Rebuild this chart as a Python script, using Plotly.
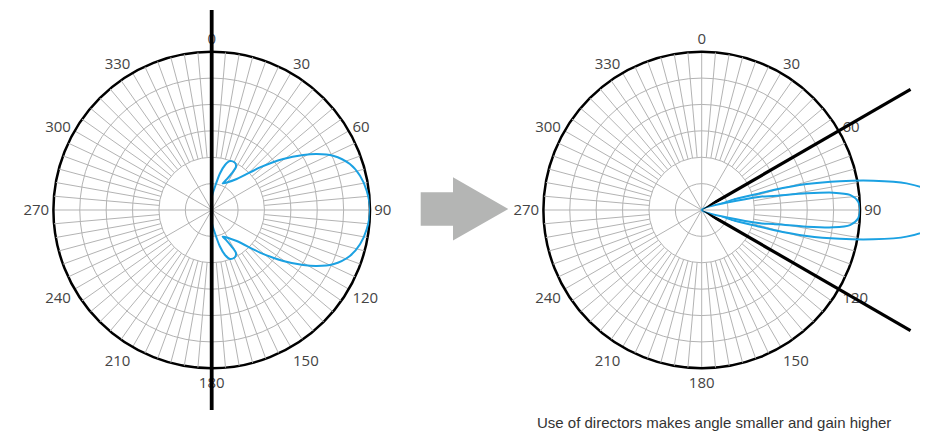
import plotly.graph_objects as go

# ---------------- data ----------------
# radial unit: one grid ring; outer ring = 6
angle_ticks = [0, 30, 60, 90, 120, 150, 180, 210, 240, 270, 300, 330]
angle_labels = ["0", "30", "60", "90", "120", "150", "180", "210", "240", "270", "300", "330"]
ring_values = [1, 2, 3, 4, 5]

# left chart: dipole + reflector pattern (petal side lobes + main lobe to 90)
left_theta = [0, 1, 8, 12.7, 16.5, 20.5, 26, 29.3, 28.6, 26, 22.4,
              38.9, 48.6, 54.5, 59, 61.9, 65.9, 71.6, 77, 82.9, 90,
              97.1, 103, 108.4, 114.1, 118.1, 121, 125.5, 131.4, 141.1,
              157.6, 154, 151.4, 150.7, 154, 159.5, 163.5, 167.3, 172, 179, 180]
left_r = [0, 0.5, 0.89, 1.42, 1.78, 1.98, 2.0, 1.88, 1.58, 1.29, 1.09,
          1.51, 2.44, 3.33, 4.05, 4.51, 5.04, 5.52, 5.77, 5.92, 6.0,
          5.92, 5.77, 5.52, 5.04, 4.51, 4.05, 3.33, 2.44, 1.51,
          1.09, 1.29, 1.58, 1.88, 2.0, 1.98, 1.78, 1.42, 0.89, 0.5, 0]

# left chart: thick vertical line through the centre
left_line_theta = [0, 0, 180]
left_line_r = [7.58, 0, 7.58]

# right chart: narrow lobe (inner) and long lobe (outer)
inner_theta = [77, 77.2, 78.9, 81, 82.5, 84.2, 87, 90, 93, 95.8, 97.5, 99, 101.1, 102.8, 103]
inner_r = [0, 2.27, 2.76, 4.03, 5.03, 5.65, 5.94, 6.0, 5.94, 5.65, 5.03, 4.03, 2.76, 2.27, 0]

outer_theta = [74, 74, 74.4, 76.1, 78.2, 80.3, 82.6, 84.9, 87.5, 90,
               92.5, 95.1, 97.4, 99.7, 101.8, 103.9, 105.6, 106, 106]
outer_r = [0, 2.3, 2.82, 4.1, 5.35, 6.6, 7.83, 8.56, 8.75, 8.85,
           8.75, 8.56, 7.83, 6.6, 5.35, 4.1, 2.82, 2.3, 0]

# right chart: beam-angle lines at 60 and 120
upper_line_theta = [60, 60]
upper_line_r = [0, 9.14]
lower_line_theta = [120, 120]
lower_line_r = [0, 9.14]

caption = "Use of directors makes angle smaller and gain higher"

# ---------------- geometry / styling ----------------
OFF = 8                     # page body margin in the browser
W, H = 928 - OFF, 437 - OFF
GRID = "#b3b3b3"
BLUE = "#1ba1e2"
TXT = "#444444"
R = 158.3                   # outer ring radius in px
PX_PER_UNIT = R / 6
CY = 210 - OFF
CX_LEFT = 211.7 - OFF
CX_RIGHT = 701.7 - OFF


def dom_px(x0, x1, y0, y1):
    """pixel box (from top-left of the figure) -> paper domain"""
    return dict(x=[x0 / W, x1 / W], y=[(H - y1) / H, (H - y0) / H])


fig = go.Figure()


def spokes(sub):
    th, rr = [], []
    for a in range(0, 360, 5):
        if a % 30 == 0:
            continue
        th += [a, a, None]
        rr += [2, 6, None]
    fig.add_trace(go.Scatterpolar(theta=th, r=rr, mode="lines", subplot=sub,
                                  line=dict(color=GRID, width=1), hoverinfo="skip"))


spokes("polar")
spokes("polar2")

line_blue = dict(color=BLUE, width=2, shape="spline", smoothing=0.8)

fig.add_trace(go.Scatterpolar(theta=left_theta, r=left_r, mode="lines", subplot="polar",
                              line=line_blue))
fig.add_trace(go.Scatterpolar(theta=inner_theta, r=inner_r, mode="lines", subplot="polar2",
                              line=line_blue))

# overlay subplots (same centre and scale) that let lines run past the outer ring
fig.add_trace(go.Scatterpolar(theta=left_line_theta, r=left_line_r, mode="lines", subplot="polar3",
                              line=dict(color="black", width=3.8)))
fig.add_trace(go.Scatterpolar(theta=outer_theta, r=outer_r, mode="lines", subplot="polar4",
                              line=line_blue))
fig.add_trace(go.Scatterpolar(theta=upper_line_theta, r=upper_line_r, mode="lines", subplot="polar5",
                              line=dict(color="black", width=3.2)))
fig.add_trace(go.Scatterpolar(theta=lower_line_theta, r=lower_line_r, mode="lines", subplot="polar6",
                              line=dict(color="black", width=3.2)))


def main_polar(cx):
    return dict(
        domain=dom_px(cx - R, cx + R, CY - R, CY + R),
        bgcolor="white",
        angularaxis=dict(rotation=90, direction="clockwise",
                         tickmode="array", tickvals=angle_ticks, ticktext=angle_labels,
                         ticks="", showgrid=True, gridcolor=GRID, gridwidth=1,
                         showline=True, linecolor="black", linewidth=2.5,
                         tickfont=dict(family="Open Sans, Liberation Sans, sans-serif",
                                       size=15, color=TXT),
                         layer="below traces"),
        radialaxis=dict(range=[0, 6], tickmode="array", tickvals=ring_values,
                        showticklabels=False, ticks="", showline=False,
                        showgrid=True, gridcolor=GRID, gridwidth=1,
                        layer="below traces"),
    )


def overlay_polar(domain, rmax, sector):
    return dict(
        domain=domain, sector=sector, bgcolor="rgba(0,0,0,0)",
        angularaxis=dict(rotation=90, direction="clockwise", visible=False),
        radialaxis=dict(range=[0, rmax], visible=False),
    )


# left overlay: full circle of radius for 7.6 units
r3 = 7.6 * PX_PER_UNIT
p3 = overlay_polar(dom_px(CX_LEFT - r3, CX_LEFT + r3, CY - r3, CY + r3), 7.6, [0, 360])

# right lobe overlay: sector -20..20 deg (geometric), reaches figure edge
r4 = W - CX_RIGHT
s4 = 0.34202
p4 = overlay_polar(dom_px(CX_RIGHT, CX_RIGHT + r4, CY - r4 * s4, CY + r4 * s4),
                   r4 / PX_PER_UNIT, [-20, 20])

# upper / lower beam lines: narrow sectors around +-30 deg (geometric)
r5 = 9.3 * PX_PER_UNIT
c25, s36 = 0.906308, 0.587785
p5 = overlay_polar(dom_px(CX_RIGHT, CX_RIGHT + r5 * c25, CY - r5 * s36, CY), 9.3, [25, 36])
p6 = overlay_polar(dom_px(CX_RIGHT, CX_RIGHT + r5 * c25, CY, CY + r5 * s36), 9.3, [-36, -25])

# block arrow between the two charts (window pixel outline -> paper coords)
arrow_px = [(420.7, 192.3), (453, 192.3), (453, 177.3), (508.3, 209),
            (453, 240.5), (453, 225.7), (420.7, 225.7)]
path = "M " + " L ".join(f"{(x - OFF) / W:.5f},{1 - (y - OFF) / H:.5f}" for x, y in arrow_px) + " Z"

fig.update_layout(
    width=W, height=H, autosize=False,
    margin=dict(l=0, r=0, t=0, b=0),
    paper_bgcolor="white", plot_bgcolor="white",
    showlegend=False,
    polar=main_polar(CX_LEFT),
    polar2=main_polar(CX_RIGHT),
    polar3=p3, polar4=p4, polar5=p5, polar6=p6,
    shapes=[dict(type="path", xref="paper", yref="paper", path=path,
                 fillcolor="#b4b5b4", line=dict(width=0))],
    annotations=[dict(text=caption, xref="paper", yref="paper",
                      x=(535 - OFF) / W, y=1 - (422 - OFF) / H,
                      xanchor="left", yanchor="middle", showarrow=False,
                      font=dict(family="Liberation Sans Narrow, Liberation Sans, sans-serif",
                                size=15, color="#333333"))],
)

fig.write_html("out.html")
